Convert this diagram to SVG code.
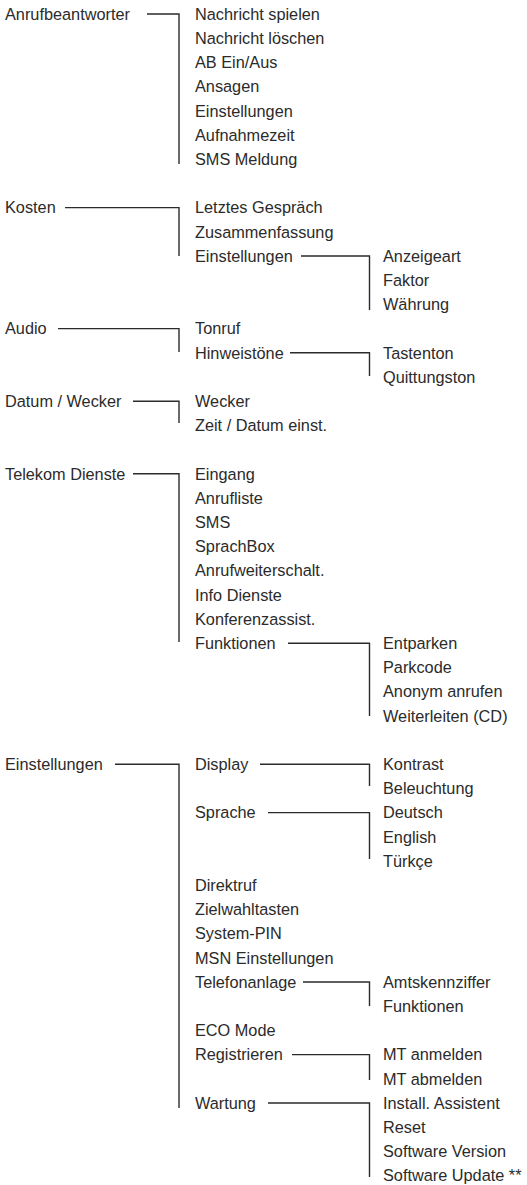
<svg xmlns="http://www.w3.org/2000/svg" width="527" height="1185" viewBox="0 0 527 1185">
<style>
text{font-family:"Liberation Sans",Arial,sans-serif;font-size:16.3px;fill:#2b2b2b}
.c{fill:none;stroke:#2b2b2b;stroke-width:1.4}
</style>
<rect width="527" height="1185" fill="#fff"/>
<g id="connectors">
<polyline class="c" points="147,14 179,14 179,164"/>
<polyline class="c" points="65,207.6 179,207.6 179,256"/>
<polyline class="c" points="301,256 369.5,256 369.5,310"/>
<polyline class="c" points="58,328.6 179,328.6 179,352"/>
<polyline class="c" points="290,352.8 369.5,352.8 369.5,376"/>
<polyline class="c" points="133,401.2 179,401.2 179,423"/>
<polyline class="c" points="133,473.8 179,473.8 179,642"/>
<polyline class="c" points="288,643.2 369.5,643.2 369.5,716"/>
<polyline class="c" points="115,764.2 179,764.2 179,1108"/>
<polyline class="c" points="260,764.2 369.5,764.2 369.5,786"/>
<polyline class="c" points="268,812.6 369.5,812.6 369.5,859"/>
<polyline class="c" points="303,982 369.5,982 369.5,1006"/>
<polyline class="c" points="292,1054.6 369.5,1054.6 369.5,1080"/>
<polyline class="c" points="268,1103 369.5,1103 369.5,1177"/>
</g>
<g id="anrufbeantworter"><text x="5" y="19.8">Anrufbeantworter</text></g>
<g id="ab-items">
<text x="195" y="19.8">Nachricht spielen</text>
<text x="195" y="44">Nachricht löschen</text>
<text x="195" y="68.2">AB Ein/Aus</text>
<text x="195" y="92.4">Ansagen</text>
<text x="195" y="116.6">Einstellungen</text>
<text x="195" y="140.8">Aufnahmezeit</text>
<text x="195" y="165">SMS Meldung</text>
</g>
<g id="kosten"><text x="5" y="213.4">Kosten</text></g>
<g id="kosten-items">
<text x="195" y="213.4">Letztes Gespräch</text>
<text x="195" y="237.6">Zusammenfassung</text>
</g>
<g id="kosten-einstellungen"><text x="195" y="261.8">Einstellungen</text></g>
<g id="kosten-einstellungen-items">
<text x="383" y="261.8">Anzeigeart</text>
<text x="383" y="286">Faktor</text>
<text x="383" y="310.2">Währung</text>
</g>
<g id="audio"><text x="5" y="334.4">Audio</text></g>
<g id="audio-items"><text x="195" y="334.4">Tonruf</text></g>
<g id="hinweistoene"><text x="195" y="358.6">Hinweistöne</text></g>
<g id="hinweistoene-items">
<text x="383" y="358.6">Tastenton</text>
<text x="383" y="382.8">Quittungston</text>
</g>
<g id="datum"><text x="5" y="407">Datum / Wecker</text></g>
<g id="datum-items">
<text x="195" y="407">Wecker</text>
<text x="195" y="431.2">Zeit / Datum einst.</text>
</g>
<g id="telekom"><text x="5" y="479.6">Telekom Dienste</text></g>
<g id="telekom-items">
<text x="195" y="479.6">Eingang</text>
<text x="195" y="503.8">Anrufliste</text>
<text x="195" y="528">SMS</text>
<text x="195" y="552.2">SprachBox</text>
<text x="195" y="576.4">Anrufweiterschalt.</text>
<text x="195" y="600.6">Info Dienste</text>
<text x="195" y="624.8">Konferenzassist.</text>
</g>
<g id="telekom-funktionen"><text x="195" y="649">Funktionen</text></g>
<g id="telekom-funktionen-items">
<text x="383" y="649">Entparken</text>
<text x="383" y="673.2">Parkcode</text>
<text x="383" y="697.4">Anonym anrufen</text>
<text x="383" y="721.6">Weiterleiten (CD)</text>
</g>
<g id="einstellungen"><text x="5" y="770">Einstellungen</text></g>
<g id="display"><text x="195" y="770">Display</text></g>
<g id="display-items">
<text x="383" y="770">Kontrast</text>
<text x="383" y="794.2">Beleuchtung</text>
</g>
<g id="sprache"><text x="195" y="818.4">Sprache</text></g>
<g id="sprache-items">
<text x="383" y="818.4">Deutsch</text>
<text x="383" y="842.6">English</text>
<text x="383" y="866.8">Türkçe</text>
</g>
<g id="einstellungen-items">
<text x="195" y="891">Direktruf</text>
<text x="195" y="915.2">Zielwahltasten</text>
<text x="195" y="939.4">System-PIN</text>
<text x="195" y="963.6">MSN Einstellungen</text>
</g>
<g id="telefonanlage"><text x="195" y="987.8">Telefonanlage</text></g>
<g id="telefonanlage-items">
<text x="383" y="987.8">Amtskennziffer</text>
<text x="383" y="1012">Funktionen</text>
</g>
<g id="eco"><text x="195" y="1036.2">ECO Mode</text></g>
<g id="registrieren"><text x="195" y="1060.4">Registrieren</text></g>
<g id="registrieren-items">
<text x="383" y="1060.4">MT anmelden</text>
<text x="383" y="1084.6">MT abmelden</text>
</g>
<g id="wartung"><text x="195" y="1108.8">Wartung</text></g>
<g id="wartung-items">
<text x="383" y="1108.8">Install. Assistent</text>
<text x="383" y="1133">Reset</text>
<text x="383" y="1157.2">Software Version</text>
<text x="383" y="1181.4">Software Update **</text>
</g>
</svg>
